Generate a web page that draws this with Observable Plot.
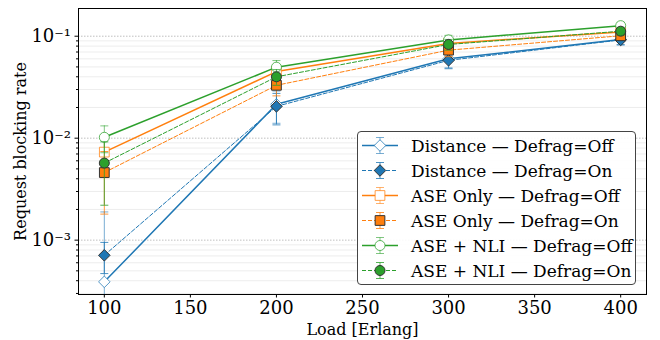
<!DOCTYPE html>
<html><head><meta charset="utf-8">
<script src="https://cdn.jsdelivr.net/npm/d3@7"></script>
<script src="https://cdn.jsdelivr.net/npm/@observablehq/plot@0.6"></script>
<style>
body{margin:0;background:#fff;}
#wrap{position:relative;width:660px;height:340px;font-family:"DejaVu Serif",serif;}
#legend{position:absolute;left:357px;top:131px;width:279px;height:154px;border:1px solid #444;border-radius:4px;background:rgba(255,255,255,0.9);box-sizing:border-box;}
.row{position:absolute;left:0;height:25px;display:flex;align-items:center;font-size:17px;font-family:"DejaVu Serif",serif;color:#000;white-space:nowrap;}
.row svg{margin-left:4px;margin-right:13px;}
</style></head><body><div id="wrap"></div>
<script>
const loads = [100, 200, 300, 400];
const seriesLabels = [
  "Distance — Defrag=Off", "Distance — Defrag=On",
  "ASE Only — Defrag=Off", "ASE Only — Defrag=On",
  "ASE + NLI — Defrag=Off", "ASE + NLI — Defrag=On"
];
const distanceOff    = [0.00039, 0.0215, 0.060, 0.093];
const distanceOffErr = [0.0015, 0.0075, 0.011, 0.010];
const distanceOn     = [0.00071, 0.0205, 0.058, 0.092];
const distanceOnErr  = [0.00024, 0.0070, 0.010, 0.010];
const aseOff         = [0.0073, 0.045, 0.085, 0.110];
const aseOffErr      = [0.0032, 0.007, 0.010, 0.010];
const aseOn          = [0.0046, 0.033, 0.073, 0.101];
const aseOnErr       = [0.0028, 0.007, 0.010, 0.010];
const nliOff         = [0.0102, 0.0497, 0.092, 0.127];
const nliOffErr      = [0.0030, 0.008, 0.010, 0.010];
const nliOn          = [0.0057, 0.040, 0.083, 0.112];
const nliOnErr       = [0.0035, 0.007, 0.010, 0.010];

const xTicks = [100, 150, 200, 250, 300, 350, 400];
const yMajorTicks = [1e-3, 1e-2, 1e-1];
const yMajorLabels = ["10⁻³", "10⁻²", "10⁻¹"];
const yMinorTicks = [3e-4,4e-4,5e-4,6e-4,7e-4,8e-4,9e-4,2e-3,3e-3,4e-3,5e-3,6e-3,7e-3,8e-3,9e-3,2e-2,3e-2,4e-2,5e-2,6e-2,7e-2,8e-2,9e-2];

const values = [distanceOff, distanceOn, aseOff, aseOn, nliOff, nliOn];
const errors = [distanceOffErr, distanceOnErr, aseOffErr, aseOnErr, nliOffErr, nliOnErr];
const colors = ["#1f77b4", "#1f77b4", "#ff7f0e", "#ff7f0e", "#2ca02c", "#2ca02c"];
const symbols = ["diamond2", "diamond2", "square", "square", "circle", "circle"];
const radii = [5.2, 5.2, 5.5, 5.5, 5, 5];
const filled = [false, true, false, true, false, true];

const capSym = {draw(ctx) { ctx.moveTo(-4, 0); ctx.lineTo(4, 0); }};
const yLabelFor = d => {
  const k = yMajorTicks.findIndex(t => Math.abs(Math.log10(t) - Math.log10(d)) < 1e-6);
  return k >= 0 ? yMajorLabels[k] : "";
};

const marks = [
  Plot.ruleY(yMinorTicks, {stroke: "#e8e8e8", strokeWidth: 0.8}),
  Plot.ruleY(yMajorTicks, {stroke: "#b0b0b0", strokeWidth: 0.8, strokeDasharray: "1.5,1.5"}),
  Plot.axisX({ticks: xTicks, tickSize: 3.5, tickPadding: 3, fontSize: 18, label: null}),
  Plot.axisX({ticks: [], label: "Load [Erlang]", labelAnchor: "center", labelArrow: "none", labelOffset: 40, fontSize: 16}),
  Plot.axisY({ticks: yMajorTicks, tickFormat: yLabelFor, tickSize: 3.5, tickPadding: 4, fontSize: 18, label: null}),
  Plot.axisY({ticks: [], label: "Request blocking rate", labelAnchor: "center", labelArrow: "none", labelOffset: 64, fontSize: 16}),
  Plot.axisY({ticks: yMinorTicks, tickSize: 2, text: null, label: null})
];

seriesLabels.forEach((name, s) => {
  const rows = loads.map((x, j) => {
    const v = values[s][j], e = errors[s][j];
    const lo = v - e;
    return {x, v, hi: v + e, lo: lo > 0 ? lo : 1e-6, hasLo: lo > 0};
  });
  const c = colors[s];
  const op = filled[s] ? 0.8 : 0.6;
  marks.push(
    Plot.ruleX(rows, {x: "x", y1: "lo", y2: "hi", stroke: c, strokeWidth: 1, strokeOpacity: op, clip: true}),
    Plot.dot(rows, {x: "x", y: "hi", symbol: capSym, fill: "none", stroke: c, strokeWidth: 1, strokeOpacity: op}),
    Plot.dot(rows.filter(d => d.hasLo), {x: "x", y: "lo", symbol: capSym, fill: "none", stroke: c, strokeWidth: 1, strokeOpacity: op}),
    Plot.line(rows, {x: "x", y: "v", stroke: c, strokeWidth: filled[s] ? 1 : 1.5, strokeDasharray: filled[s] ? "4,2" : null}),
    Plot.dot(rows, {x: "x", y: "v", symbol: symbols[s], r: radii[s],
      fill: filled[s] ? c : "white", stroke: filled[s] ? "#333" : c,
      strokeOpacity: filled[s] ? 1 : 0.75, strokeWidth: 1})
  );
});
marks.push(Plot.frame({stroke: "#000", strokeWidth: 1}));

const chart = Plot.plot({
  width: 660, height: 340,
  marginLeft: 78, marginRight: 14, marginTop: 8, marginBottom: 46,
  style: {fontFamily: "DejaVu Serif", fontSize: "16px", color: "#000", background: "#fff"},
  x: {domain: [85, 415]},
  y: {type: "log", domain: [2.93e-4, 0.187]},
  marks
});
const wrap = document.getElementById("wrap");
wrap.appendChild(chart);

// legend
const legend = document.createElement("div");
legend.id = "legend";
seriesLabels.forEach((name, s) => {
  const row = document.createElement("div");
  row.className = "row";
  row.style.top = (1 + s * 25) + "px";
  const c = colors[s];
  const symMap = {diamond2: d3.symbolDiamond2, square: d3.symbolSquare, circle: d3.symbolCircle};
  const path = d3.symbol(symMap[symbols[s]], Math.PI * radii[s] * radii[s])();
  const op = filled[s] ? 0.8 : 0.6;
  const svg = `<svg width="36" height="25" viewBox="-18 -12.5 36 25">
    <line x1="-18" x2="18" y1="0" y2="0" stroke="${c}" stroke-width="${filled[s] ? 1 : 1.5}" ${filled[s] ? 'stroke-dasharray="4,2"' : ''}/>
    <line x1="0" x2="0" y1="-8" y2="8" stroke="${c}" stroke-opacity="${op}"/>
    <line x1="-4" x2="4" y1="-8" y2="-8" stroke="${c}" stroke-opacity="${op}"/>
    <line x1="-4" x2="4" y1="8" y2="8" stroke="${c}" stroke-opacity="${op}"/>
    <path d="${path}" fill="${filled[s] ? c : 'white'}" stroke="${filled[s] ? '#333' : c}" stroke-opacity="${filled[s] ? 1 : 0.75}"/>
  </svg>`;
  row.innerHTML = svg + `<span>${name}</span>`;
  legend.appendChild(row);
});
wrap.appendChild(legend);
</script></body></html>
